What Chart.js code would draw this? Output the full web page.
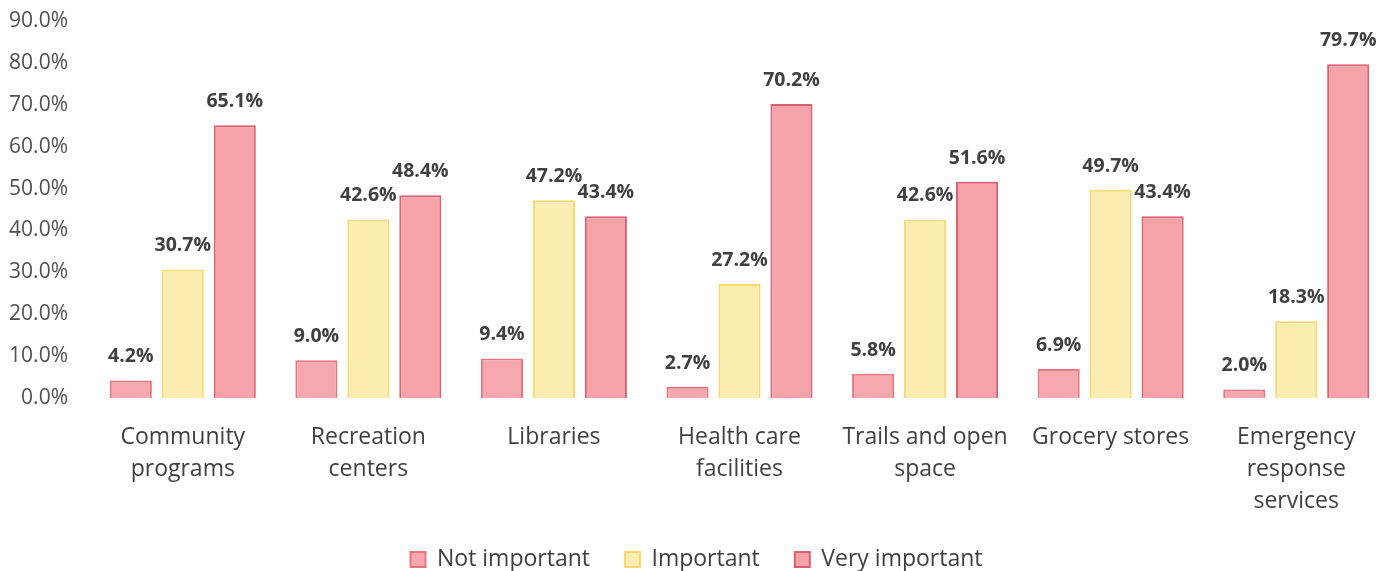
<!DOCTYPE html>
<html>
<head>
<meta charset="utf-8">
<script src="https://cdn.jsdelivr.net/npm/chart.js@4.4.0/dist/chart.umd.min.js"></script>
<style>
html,body{margin:0;padding:0;background:#fff;}
#wrap{width:1390px;height:571px;position:relative;}
</style>
</head>
<body>
<div id="wrap"><canvas id="c"></canvas></div>
<script>
const categories = [
  ["Community","programs"],
  ["Recreation","centers"],
  "Libraries",
  ["Health care","facilities"],
  ["Trails and open","space"],
  "Grocery stores",
  ["Emergency","response","services"]
];
const seriesNames = ["Not important","Important","Very important"];
const notImportant = [4.2, 9.0, 9.4, 2.7, 5.8, 6.9, 2.0];
const important = [30.7, 42.6, 47.2, 27.2, 42.6, 49.7, 18.3];
const veryImportant = [65.1, 48.4, 43.4, 70.2, 51.6, 43.4, 79.7];

const FONT = "'Open Sans', Lato, sans-serif";

const dataLabels = {
  id: 'dataLabels',
  afterDatasetsDraw(chart) {
    const ctx = chart.ctx;
    ctx.save();
    ctx.font = "bold 19.5px " + FONT;
    ctx.fillStyle = "#404040";
    ctx.textAlign = "center";
    ctx.textBaseline = "bottom";
    chart.data.datasets.forEach((ds, i) => {
      const meta = chart.getDatasetMeta(i);
      meta.data.forEach((bar, j) => {
        ctx.fillText(ds.data[j].toFixed(1) + "%", bar.x, bar.y - 14);
      });
    });
    ctx.restore();
  }
};

new Chart(document.getElementById('c'), {
  type: 'bar',
  data: {
    labels: categories,
    datasets: [
      { label: seriesNames[0], data: notImportant, backgroundColor: '#f7a8ae', borderColor: '#e8767f', borderWidth: 2 },
      { label: seriesNames[1], data: important, backgroundColor: '#fdedb0', borderColor: '#f7d972', borderWidth: 2 },
      { label: seriesNames[2], data: veryImportant, backgroundColor: '#f5a2a9', borderColor: '#da6270', borderWidth: 2 }
    ]
  },
  options: {
    responsive: true,
    maintainAspectRatio: false,
    animation: false,
    layout: { padding: { left: 4, right: 1, top: 0, bottom: 0 } },
    datasets: { bar: { categoryPercentage: 0.84, barPercentage: 0.81 } },
    scales: {
      x: {
        grid: { display: false, drawTicks: false },
        border: { display: false },
        ticks: { color: '#404040', font: { family: FONT, size: 23, lineHeight: 1.4 }, maxRotation: 0, autoSkip: false, padding: 23 },
        afterFit: s => { s.height = 115; }
      },
      y: {
        min: 0, max: 90,
        grid: { display: false, drawTicks: false },
        border: { display: false },
        ticks: { stepSize: 10, color: '#505050', font: { family: FONT, size: 21 }, padding: 22,
          callback: v => v.toFixed(1) + '%' },
        afterFit: s => { s.width = 86; s.paddingTop = 21; s.paddingBottom = 12; }
      }
    },
    plugins: {
      legend: {
        position: 'bottom',
        maxHeight: 58,
        labels: { color: '#404040', font: { family: FONT, size: 23 }, boxWidth: 15, boxHeight: 15, padding: 35 }
      },
      tooltip: { enabled: false }
    }
  },
  plugins: [dataLabels]
});
</script>
</body>
</html>
